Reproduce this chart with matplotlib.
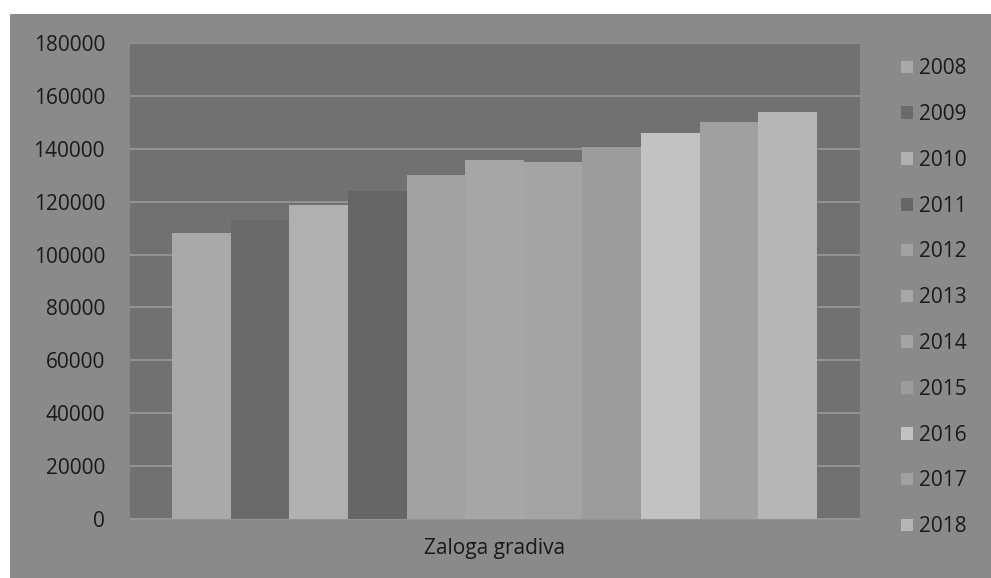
import numpy as np
import matplotlib
matplotlib.use("Agg")
from matplotlib import pyplot as plt
from matplotlib.patches import Rectangle

# data
years = ["2008", "2009", "2010", "2011", "2012", "2013",
         "2014", "2015", "2016", "2017", "2018"]
values = [108000, 113000, 118700, 124000, 130000, 135800,
          135000, 140500, 146000, 150200, 153800]
bar_colors = ["#a9a9a9", "#6a6a6a", "#b0b0b0", "#666666", "#a2a2a2", "#a6a6a6",
              "#a4a4a4", "#9c9c9c", "#c2c2c2", "#a0a0a0", "#b6b6b6"]
category = "Zaloga gradiva"
y_ticks = np.arange(0, 180001, 20000)

plt.rcParams["font.family"] = ["Open Sans", "DejaVu Sans"]

fig = plt.figure(figsize=(9.91, 5.78), dpi=100)
fig.patch.set_facecolor("white")
# grey chart area of the scan
fig.patches.append(Rectangle((10 / 991, 0), 981 / 991, 564 / 578,
                             transform=fig.transFigure, facecolor="#8a8a8a",
                             edgecolor="none", zorder=-10))

ax = fig.add_axes([130 / 991, 59 / 578, 730 / 991, 476 / 578])
ax.set_facecolor("#717171")

x = np.arange(len(years))
ax.bar(x, values, width=1.0, color=bar_colors, edgecolor="none", zorder=2)

ax.set_ylim(0, 180000)
ax.set_yticks(y_ticks)
ax.set_yticklabels([str(v) for v in y_ticks])
ax.set_xlim(-0.5 - 42 / 58.6, 10.5 + 43 / 58.6)
ax.set_xticks([x.mean()])
ax.set_xticklabels([category])

ax.grid(axis="y", color="#999999", linewidth=1.2, zorder=0)
ax.set_axisbelow(True)
for side in ["top", "right", "left"]:
    ax.spines[side].set_visible(False)
ax.spines["bottom"].set_color("#949494")
ax.tick_params(axis="both", length=0, labelsize=15, colors="#1a1a1a")
ax.tick_params(axis="y", pad=18)
ax.tick_params(axis="x", pad=14)

handles = [Rectangle((0, 0), 1, 1, facecolor=c, edgecolor="none") for c in bar_colors]
leg = fig.legend(handles, years, loc="upper left", bbox_to_anchor=(893 / 991, 1 - 50 / 578),
                 frameon=False, fontsize=15, handlelength=0.55, handleheight=0.55,
                 handletextpad=0.3, labelspacing=1.19, borderaxespad=0)
for t in leg.get_texts():
    t.set_color("#1a1a1a")

fig.savefig("out.png", dpi=100, facecolor=fig.get_facecolor())
